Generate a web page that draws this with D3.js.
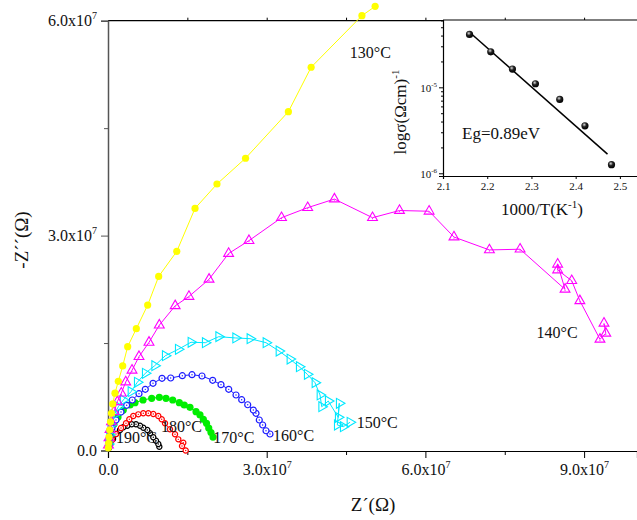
<!DOCTYPE html>
<meta charset="utf-8">
<html>
<head>
<style>
  body { margin: 0; background: #fff; }
</style>
</head>
<body>
<svg id="chart" width="637" height="520"></svg>
<script src="https://cdn.jsdelivr.net/npm/d3@7"></script>
<script>

// Nyquist data, Z' and -Z'' both in units of 1e7 ohm
var z130 = [[5.05,6.20],[4.80,6.07],[3.84,5.35],[3.41,4.73],[2.60,4.08],[2.06,3.72],[1.645,3.38],[1.30,2.78],[0.958,2.43],[0.75,2.03],[0.535,1.70],[0.372,1.45],[0.278,1.18],[0.195,0.966],[0.132,0.80],[0.089,0.65],[0.066,0.52],[0.047,0.40],[0.032,0.29],[0.019,0.19],[0.011,0.10],[0.006,0.035]];
var z140 = [[9.376,1.776],[9.41,1.636],[9.30,1.552],[8.92,2.09],[8.766,2.37],[8.50,2.52],[8.50,2.60],[8.64,2.25],[7.79,2.81],[7.21,2.80],[6.54,2.98],[6.07,3.34],[5.51,3.35],[5.00,3.25],[4.28,3.51],[3.775,3.39],[3.28,3.25],[2.665,2.93],[2.28,2.75],[1.91,2.39],[1.53,2.15],[1.27,2.02],[0.97,1.75],[0.775,1.51],[0.586,1.31],[0.454,1.12],[0.335,0.956],[0.251,0.80],[0.176,0.68],[0.113,0.54],[0.066,0.40],[0.038,0.29],[0.019,0.175],[0.009,0.077]];
var z150 = [[4.575,0.394],[4.448,0.332],[4.335,0.356],[4.372,0.659],[4.353,0.463],[4.164,0.691],[4.04,0.611],[4.008,0.775],[3.913,0.947],[3.767,1.064],[3.616,1.17],[3.44,1.277],[3.233,1.389],[2.987,1.505],[2.684,1.561],[2.414,1.571],[2.093,1.589],[1.839,1.505],[1.569,1.511],[1.329,1.413],[1.083,1.323],[0.883,1.184],[0.705,1.078],[0.554,0.952],[0.435,0.821],[0.289,0.705],[0.195,0.611],[0.113,0.496],[0.057,0.356],[0.028,0.216],[0.009,0.091]];
var z160 = [[3.062,0.230],[2.987,0.276],[2.924,0.356],[2.86,0.426],[2.798,0.519],[2.747,0.565],[2.641,0.639],[2.527,0.709],[2.42,0.775],[2.282,0.854],[2.136,0.919],[1.979,0.98],[1.777,1.04],[1.588,1.058],[1.405,1.044],[1.185,1.012],[1.021,1.008],[0.851,0.938],[0.705,0.854],[0.586,0.793],[0.459,0.705],[0.353,0.631],[0.246,0.537],[0.151,0.426],[0.076,0.314],[0.032,0.202],[0.009,0.091]];
var z170 = [[1.985,0.188],[1.947,0.251],[1.904,0.314],[1.862,0.38],[1.802,0.436],[1.739,0.496],[1.664,0.542],[1.55,0.603],[1.442,0.635],[1.348,0.667],[1.223,0.705],[1.096,0.729],[0.97,0.743],[0.826,0.729],[0.662,0.705],[0.51,0.667],[0.416,0.635],[0.289,0.565],[0.189,0.468],[0.113,0.37],[0.057,0.258],[0.025,0.147],[0.009,0.063]];
var z180 = [[1.469,0.0],[1.423,0.109],[1.399,0.063],[1.329,0.156],[1.267,0.226],[1.172,0.296],[1.078,0.38],[1.015,0.436],[0.951,0.482],[0.856,0.51],[0.762,0.519],[0.667,0.519],[0.573,0.505],[0.478,0.482],[0.403,0.436],[0.34,0.38],[0.246,0.314],[0.151,0.23],[0.076,0.147],[0.028,0.063]];
var z190 = [[0.97,0.053],[0.951,0.091],[0.907,0.137],[0.856,0.184],[0.794,0.24],[0.743,0.286],[0.667,0.318],[0.605,0.346],[0.529,0.366],[0.448,0.366],[0.365,0.346],[0.289,0.324],[0.227,0.286],[0.151,0.23],[0.095,0.16],[0.047,0.091],[0.019,0.035]];

// series labels and where they sit (data units)
var labels = [
  { t: "130°C", at: [4.57, 5.48] },
  { t: "140°C", at: [8.1, 1.57] },
  { t: "150°C", at: [4.7, 0.31] },
  { t: "160°C", at: [3.12, 0.13] },
  { t: "170°C", at: [1.99, 0.105] },
  { t: "180°C", at: [1.0, 0.26] },
  { t: "190°C", at: [0.15, 0.105] }
];

// inset: conductivity vs 1000/T
var invT = [2.16, 2.208, 2.257, 2.309, 2.364, 2.421, 2.481];
var sigma = [4.13e-5, 2.59e-5, 1.63e-5, 1.10e-5, 7.24e-6, 3.57e-6, 1.26e-6];
var fitX = [2.16, 2.472];
var fitY = [4.37e-5, 1.67e-6];

var FONT = "Liberation Serif, DejaVu Serif";
var svg = d3.select("#chart").style("font-family", FONT);

var x = d3.scaleLinear().domain([0, 10]).range([108, 637]);
var y = d3.scaleLinear().domain([0, 6]).range([450.5, 20.7]);

// label formatter "3.0x10^7"
function sciLabels(g) {
  g.selectAll(".tick text").each(function (d) {
    var t = d3.select(this).text(null);
    if (d === 0) { t.text("0.0"); return; }
    t.append("tspan").text(d.toFixed(1) + "x10");
    t.append("tspan").attr("dy", -7).attr("font-size", 10).text("7");
  });
}

// main frame top line
svg.append("line").attr("x1", 108).attr("x2", 637).attr("y1", y(6)).attr("y2", y(6))
  .attr("stroke", "#000").attr("stroke-width", 1.2);

// top ticks
svg.append("g").attr("transform", "translate(0," + y(6) + ")")
  .call(d3.axisTop(x).tickValues([1.5, 3, 4.5, 6, 7.5, 9]).tickSize(3).tickFormat(""))
  .call(function (g) { g.select(".domain").remove(); });

// bottom axis
var xAx = svg.append("g").attr("transform", "translate(0,451)")
  .call(d3.axisBottom(x).tickValues([0, 3, 6, 9]).tickSize(7).tickPadding(6))
  .call(sciLabels);
xAx.select(".domain").attr("stroke-width", 1.2);
xAx.selectAll("text").attr("font-size", 16).attr("fill", "#111");
svg.append("g").attr("transform", "translate(0,451)")
  .call(d3.axisBottom(x).tickValues([1.5, 4.5, 7.5]).tickSize(4).tickFormat(""))
  .call(function (g) { g.select(".domain").remove(); });

// left axis
var yAx = svg.append("g").attr("transform", "translate(108,0)")
  .call(d3.axisLeft(y).tickValues([0, 3, 6]).tickSize(7).tickPadding(4))
  .call(sciLabels);
yAx.select(".domain").attr("stroke", "#555").attr("stroke-width", 1.5);
yAx.selectAll("line").attr("stroke", "#555");
yAx.selectAll("text").attr("font-size", 16).attr("fill", "#111");
svg.append("g").attr("transform", "translate(108,0)")
  .call(d3.axisLeft(y).tickValues([1.5, 4.5]).tickSize(4).tickFormat(""))
  .call(function (g) { g.select(".domain").remove(); g.selectAll("line").attr("stroke", "#555"); });

// axis titles
svg.append("text").attr("x", 373).attr("y", 511).attr("text-anchor", "middle")
  .attr("font-size", 19).attr("fill", "#111").text("Z´(Ω)");
svg.append("text").attr("transform", "translate(28,240) rotate(-90)").attr("text-anchor", "middle")
  .attr("font-size", 19).attr("fill", "#111").text("-Z´´(Ω)");

var line = d3.line().x(function (d) { return x(d[0]); }).y(function (d) { return y(d[1]); });

var series = [
  { data: z190, color: "#000000", mark: "dotcircle", r: 2.6 },
  { data: z180, color: "#ff0000", mark: "dotcircle", r: 2.6 },
  { data: z170, color: "#00ee00", mark: "filled", r: 3.6 },
  { data: z160, color: "#1c1cff", mark: "dotcircle", r: 3.0 },
  { data: z150, color: "#00e8ff", mark: "triright", r: 0 },
  { data: z140, color: "#ff00ff", mark: "triup", r: 0 },
  { data: z130, color: "#ffff00", mark: "filled", r: 3.6 }
];

var tri = d3.symbol().type(d3.symbolTriangle).size(42);

series.forEach(function (s) {
  var g = svg.append("g");
  g.append("path").datum(s.data).attr("d", line)
    .attr("fill", "none").attr("stroke", s.color).attr("stroke-width", 1);
  var pts = g.selectAll("g.pt").data(s.data).enter().append("g")
    .attr("transform", function (d) { return "translate(" + x(d[0]) + "," + y(d[1]) + ")"; });
  if (s.mark === "filled") {
    pts.append("circle").attr("r", s.r).attr("fill", s.color);
  } else if (s.mark === "dotcircle") {
    pts.append("circle").attr("r", s.r).attr("fill", "#fff").attr("stroke", s.color).attr("stroke-width", 1.2);
    pts.append("circle").attr("r", 0.7).attr("fill", s.color);
  } else if (s.mark === "triup") {
    pts.append("path").attr("d", tri).attr("fill", "none").attr("stroke", s.color).attr("stroke-width", 1.1);
    pts.append("circle").attr("r", 0.6).attr("cy", 1).attr("fill", s.color);
  } else {
    pts.append("path").attr("d", tri).attr("transform", "rotate(90)")
      .attr("fill", "none").attr("stroke", s.color).attr("stroke-width", 1.1);
  }
});

// temperature labels
svg.append("g").selectAll("text").data(labels).enter().append("text")
  .attr("x", function (d) { return x(d.at[0]); })
  .attr("y", function (d) { return y(d.at[1]); })
  .attr("font-size", 16).attr("fill", "#111")
  .text(function (d) { return d.t; });

// ---------- inset ----------
var ix = d3.scaleLinear().domain([2.1, 2.55]).range([443, 642]);
var iy = d3.scaleLog().domain([9.3e-7, 6.07e-5]).range([176, 20]);

var inset = svg.append("g");
inset.append("rect").attr("x", 443).attr("y", 20).attr("width", 200).attr("height", 156).attr("fill", "#fff");
inset.append("line").attr("x1", 443).attr("x2", 637).attr("y1", 20).attr("y2", 20)
  .attr("stroke", "#000").attr("stroke-width", 1.2);

var ixAx = inset.append("g").attr("transform", "translate(0,176)")
  .call(d3.axisBottom(ix).tickValues([2.1, 2.2, 2.3, 2.4, 2.5]).tickSize(3).tickPadding(3).tickFormat(d3.format(".1f")));
ixAx.select(".domain").attr("stroke-width", 1.2);
ixAx.selectAll("text").attr("font-size", 11).attr("fill", "#111");

var iyAx = inset.append("g").attr("transform", "translate(443,0)")
  .call(d3.axisLeft(iy).tickValues([1e-6, 1e-5]).tickSize(4).tickPadding(2).tickFormat(""));
iyAx.select(".domain").attr("stroke-width", 1.2);
iyAx.selectAll(".tick").append("text").attr("x", -6).attr("dy", "0.35em").attr("text-anchor", "end")
  .attr("font-size", 11).attr("fill", "#111")
  .each(function (d) {
    var t = d3.select(this);
    t.append("tspan").text("10");
    t.append("tspan").attr("dy", -5).attr("font-size", 7).text(d === 1e-6 ? "-6" : "-5");
  });
inset.append("g").attr("transform", "translate(443,0)")
  .call(d3.axisLeft(iy).tickValues([2e-6,3e-6,4e-6,5e-6,6e-6,7e-6,8e-6,9e-6,2e-5,3e-5,4e-5,5e-5,6e-5]).tickSize(2).tickFormat(""))
  .call(function (g) { g.select(".domain").remove(); });

var defs = svg.append("defs");
var grad = defs.append("radialGradient").attr("id", "ball").attr("cx", "40%").attr("cy", "35%").attr("r", "65%");
grad.append("stop").attr("offset", "0%").attr("stop-color", "#ddd");
grad.append("stop").attr("offset", "45%").attr("stop-color", "#222");
grad.append("stop").attr("offset", "100%").attr("stop-color", "#000");

inset.append("line")
  .attr("x1", ix(fitX[0])).attr("y1", iy(fitY[0]))
  .attr("x2", ix(fitX[1])).attr("y2", iy(fitY[1]))
  .attr("stroke", "#000").attr("stroke-width", 1.5);

inset.selectAll("circle.pt").data(invT).enter().append("circle")
  .attr("cx", function (d) { return ix(d); })
  .attr("cy", function (d, i) { return iy(sigma[i]); })
  .attr("r", 3.6).attr("fill", "url(#ball)");

inset.append("text").attr("x", 462).attr("y", 139).attr("font-size", 17).attr("fill", "#111").text("Eg=0.89eV");
inset.append("text").attr("x", 542).attr("y", 215).attr("text-anchor", "middle").attr("font-size", 17).attr("fill", "#111")
  .call(function (t) {
    t.append("tspan").text("1000/T(K");
    t.append("tspan").attr("dy", -7).attr("font-size", 11).text("-1");
    t.append("tspan").attr("dy", 7).text(")");
  });
inset.append("text").attr("transform", "translate(406,112) rotate(-90)").attr("text-anchor", "middle")
  .attr("font-size", 17).attr("fill", "#111")
  .call(function (t) {
    t.append("tspan").text("logσ(Ωcm)");
    t.append("tspan").attr("dy", -7).attr("font-size", 11).text("-1");
  });

// d3 axes put a sans-serif family on their groups; force the serif face on every text
svg.selectAll("g").attr("font-family", null);
svg.selectAll("text").style("font-family", FONT);

</script>
</body>
</html>
